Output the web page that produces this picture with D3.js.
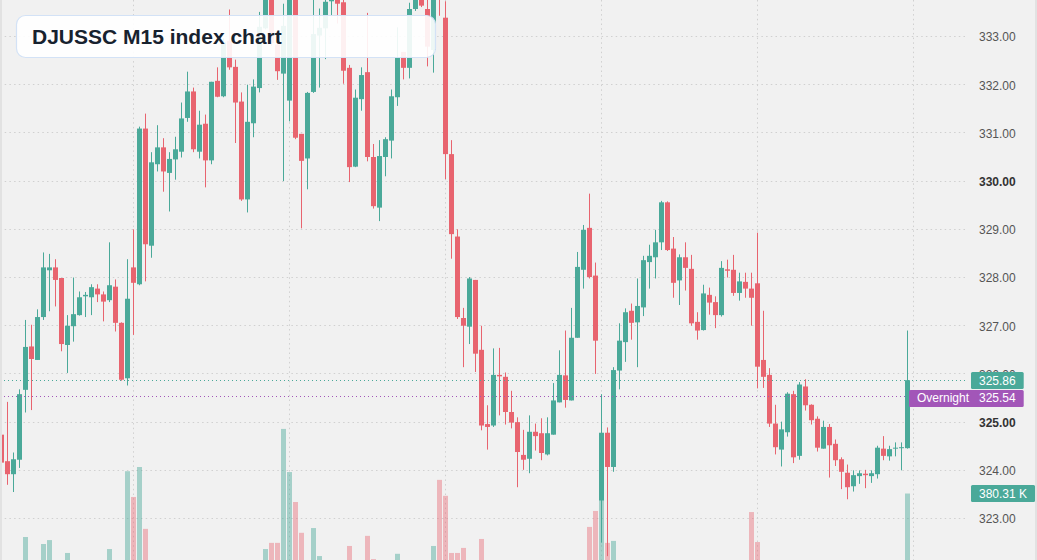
<!DOCTYPE html>
<html>
<head>
<meta charset="utf-8">
<script src="https://cdnjs.cloudflare.com/ajax/libs/d3/7.8.5/d3.min.js"></script>
<style>
html, body { margin: 0; padding: 0; background: #f1f1f1; }
#vis { width: 1037px; height: 560px; }
text { font-family: "Liberation Sans", Arial, sans-serif; }
</style>
</head>
<body>
<div id="vis"></div>
<script>
// 15 minute bars, oldest first
var opens = [324.73, 324.18, 323.91, 324.21, 325.66, 326.56, 326.28, 327.17, 328.14, 328.20,
    327.98, 326.59, 326.98, 327.21, 327.60, 327.58, 327.76, 327.64, 327.52, 327.80,
    327.05, 325.90, 328.20, 327.85, 331.08, 328.65, 330.34, 330.69, 330.16, 330.44,
    330.60, 331.30, 331.85, 330.60, 331.18, 330.42, 332.07, 331.75, 332.90, 332.36,
    331.64, 329.61, 331.19, 331.92, 333.16, 333.85, 332.82, 332.22, 331.66, 333.80,
    330.97, 330.46, 331.84, 333.01, 333.16, 333.72, 333.82, 333.70, 332.34, 330.29,
    331.69, 332.25, 330.49, 329.44, 330.49, 330.83, 331.73, 332.67, 332.34, 333.56,
    333.85, 333.56, 332.71, 334.05, 333.38, 330.55, 328.84, 327.15, 326.97, 327.94,
    326.49, 324.95, 324.92, 325.97, 325.93, 325.20, 324.99, 324.31, 324.23, 324.79,
    324.76, 324.32, 324.73, 325.40, 325.96, 325.44, 326.74, 328.15, 329.02, 328.03,
    323.36, 324.77, 324.06, 326.06, 326.65, 327.30, 327.06, 327.37, 328.31, 328.41,
    328.72, 329.55, 328.59, 327.93, 328.41, 328.17, 327.07, 326.90, 327.63, 327.48,
    327.21, 328.16, 328.15, 327.67, 327.90, 327.76, 327.87, 326.28, 325.97, 324.96,
    324.42, 324.78, 325.57, 324.29, 325.73, 325.35, 325.06, 324.44, 324.89, 324.54,
    324.22, 323.94, 323.66, 323.87, 323.92, 323.87, 323.91, 324.44, 324.28, 324.44,
    324.46, 324.45];
var highs = [324.85, 325.41, 324.36, 325.67, 327.11, 327.01, 327.33, 328.51, 328.48, 328.37,
    327.98, 327.21, 327.99, 327.70, 327.69, 327.85, 327.85, 327.70, 328.72, 327.95,
    327.06, 328.37, 328.99, 331.12, 331.39, 330.59, 331.15, 330.88, 330.59, 330.91,
    331.62, 332.26, 331.93, 331.45, 331.37, 332.05, 332.35, 332.95, 333.55, 332.51,
    331.83, 331.99, 332.10, 333.50, 333.95, 333.95, 333.00, 333.67, 333.95, 333.95,
    330.97, 331.84, 333.80, 333.57, 333.80, 333.95, 333.90, 333.80, 332.40, 331.89,
    332.35, 333.48, 330.76, 330.84, 330.90, 331.89, 333.18, 332.67, 333.69, 333.90,
    333.95, 333.80, 333.90, 334.15, 333.72, 330.84, 328.99, 327.36, 328.00, 327.94,
    326.99, 325.34, 326.52, 326.53, 326.02, 325.64, 325.09, 324.83, 325.13, 324.96,
    325.07, 325.09, 325.80, 326.48, 326.89, 327.36, 328.52, 329.08, 329.73, 328.30,
    325.57, 324.88, 326.13, 327.04, 327.35, 327.45, 327.97, 328.44, 328.67, 328.98,
    329.58, 329.57, 328.83, 328.47, 328.72, 328.46, 327.27, 327.84, 327.78, 327.60,
    328.33, 328.36, 328.46, 328.09, 328.09, 328.09, 328.92, 327.30, 326.11, 325.35,
    325.00, 325.61, 325.64, 325.82, 325.88, 325.36, 325.11, 325.02, 324.95, 324.63,
    324.26, 324.11, 323.99, 323.99, 324.00, 323.99, 324.50, 324.70, 324.50, 324.57,
    324.57, 326.89];
var lows = [324.05, 323.69, 323.54, 324.04, 325.19, 325.24, 326.28, 327.11, 327.29, 327.39,
    326.46, 326.01, 326.66, 327.20, 327.17, 327.21, 327.48, 327.08, 327.48, 326.87,
    325.85, 325.75, 326.80, 327.83, 327.91, 328.40, 330.19, 329.77, 329.36, 330.02,
    330.48, 331.22, 330.59, 330.46, 329.86, 330.34, 331.73, 331.73, 332.30, 330.78,
    329.58, 329.34, 330.90, 331.83, 333.14, 332.80, 332.09, 329.99, 331.23, 330.86,
    329.01, 329.82, 331.82, 331.93, 332.52, 333.41, 333.26, 332.01, 329.97, 330.28,
    331.45, 330.40, 329.42, 329.16, 330.09, 330.46, 331.55, 332.10, 332.12, 333.52,
    333.60, 332.37, 332.24, 333.42, 330.03, 328.38, 327.13, 326.13, 326.61, 326.03,
    324.82, 324.42, 324.89, 325.13, 324.94, 324.86, 323.64, 324.00, 323.93, 324.40,
    324.20, 324.30, 324.73, 325.40, 325.29, 325.44, 326.74, 327.76, 327.97, 325.99,
    322.49, 322.21, 323.96, 325.67, 326.24, 326.70, 326.13, 327.19, 327.76, 327.97,
    328.56, 328.54, 327.57, 327.42, 327.72, 326.99, 326.70, 326.89, 327.22, 326.94,
    327.18, 327.99, 327.61, 327.51, 327.57, 326.99, 325.69, 325.70, 324.89, 324.32,
    324.07, 324.69, 324.14, 324.21, 325.23, 324.94, 324.38, 324.44, 323.84, 324.08,
    323.60, 323.39, 323.55, 323.71, 323.62, 323.73, 323.82, 324.20, 324.19, 324.28,
    323.99, 324.44];
var closes = [324.15, 323.91, 324.22, 325.57, 326.55, 326.30, 327.17, 328.20, 328.20, 327.94,
    326.61, 326.99, 327.23, 327.58, 327.63, 327.79, 327.64, 327.49, 327.83, 327.05,
    325.87, 327.55, 327.88, 331.08, 328.68, 330.38, 330.69, 330.19, 330.45, 330.65,
    331.29, 331.85, 330.65, 331.16, 330.42, 332.05, 331.74, 332.87, 332.35, 331.62,
    329.61, 331.22, 331.95, 333.19, 333.85, 332.85, 332.27, 333.21, 333.85, 330.89,
    330.41, 331.82, 333.04, 333.17, 333.71, 333.82, 333.67, 332.28, 330.28, 331.72,
    332.19, 330.49, 329.47, 330.51, 330.86, 331.75, 332.56, 332.34, 333.56, 333.80,
    333.63, 332.78, 333.82, 333.85, 330.55, 328.89, 327.17, 326.99, 327.97, 326.41,
    324.92, 324.89, 325.97, 325.94, 325.20, 324.98, 324.37, 324.21, 324.79, 324.70,
    324.35, 324.76, 325.44, 325.97, 325.45, 326.74, 328.21, 328.98, 328.00, 326.68,
    324.77, 324.06, 326.07, 326.68, 327.27, 327.05, 327.40, 328.35, 328.44, 328.72,
    329.55, 328.56, 327.88, 328.41, 328.19, 327.04, 326.89, 327.66, 327.47, 327.21,
    328.19, 328.13, 327.67, 327.91, 327.76, 327.57, 326.14, 325.93, 324.96, 324.47,
    324.84, 325.58, 324.26, 325.77, 325.34, 325.03, 324.46, 324.89, 324.51, 324.20,
    323.96, 323.64, 323.89, 323.93, 323.89, 323.93, 324.46, 324.29, 324.43, 324.46,
    324.47, 325.86];
// volume in thousands
var volumes = [95, 110, 88, 120, 225, 130, 105, 200, 214, 90,
    125, 168, 100, 70, 60, 75, 55, 80, 182, 115,
    135, 460, 368, 475, 254, 130, 110, 95, 100, 75,
    120, 105, 128, 90, 112, 138, 85, 118, 102, 126,
    134, 130, 96, 124, 182, 204, 204, 611, 457, 350,
    240, 136, 257, 157, 110, 80, 92, 130, 193, 120,
    98, 229, 146, 128, 85, 118, 165, 78, 126, 70,
    66, 122, 193, 429, 372, 168, 168, 186, 132, 138,
    218, 88, 124, 95, 110, 86, 128, 70, 105, 64,
    92, 80, 114, 108, 120, 130, 138, 125, 261, 318,
    354, 204, 211, 120, 108, 82, 118, 110, 76, 90,
    128, 112, 100, 88, 84, 122, 74, 96, 62, 70,
    118, 58, 92, 66, 60, 314, 207, 138, 130, 104,
    96, 102, 126, 134, 88, 72, 100, 82, 106, 78,
    84, 98, 62, 48, 52, 44, 90, 66, 58, 40,
    54, 380.31];

var priceTicks = [323, 324, 325, 326, 327, 328, 329, 330, 331, 332, 333];
var boldTicks = [325, 330];
var sessionBreaks = [22, 48, 74, 100, 126, 152];
var lastPrice = 325.86;
var overnightPrice = 325.54;
var overnightName = 'Overnight';
var title = 'DJUSSC M15 index chart';

var upColor = '#4aa999',
    downColor = '#e8646f',
    nightColor = '#a256b8';

var width = 1037,
    height = 560,
    plotRight = 967;

var svg = d3.select('#vis')
    .append('svg')
    .attr('width', width)
    .attr('height', height);

svg.append('rect')
    .attr('width', width)
    .attr('height', height)
    .attr('fill', '#f1f1f1');

var data = opens.map(function (o, i) {
    return { i: i, o: o, h: highs[i], l: lows[i], c: closes[i], v: volumes[i] };
});

var x_scale = d3.scaleLinear()
    .domain([0, 151])
    .range([1.5, 907.5]);

var y_scale = d3.scaleLinear()
    .domain([322.13, 333.747])
    .range([height, 0]);

// volume pane sits low, its base is below the visible area
var v_scale = d3.scaleLinear()
    .domain([0, 1000])
    .range([600, 320]);

// grid
svg.append('g')
    .selectAll('line')
    .data(priceTicks)
    .enter()
    .append('line')
    .attr('x1', 0)
    .attr('x2', plotRight)
    .attr('y1', function (d) { return Math.round(y_scale(d)) + 0.5; })
    .attr('y2', function (d) { return Math.round(y_scale(d)) + 0.5; })
    .attr('stroke', '#d0d0d0')
    .attr('stroke-dasharray', '1.5,3.2');

svg.append('g')
    .selectAll('line')
    .data(sessionBreaks)
    .enter()
    .append('line')
    .attr('x1', function (d) { return x_scale(d); })
    .attr('x2', function (d) { return x_scale(d); })
    .attr('y1', 0)
    .attr('y2', height)
    .attr('stroke', '#d0d0d0')
    .attr('stroke-dasharray', '1.5,3.2');

// volume
svg.append('g')
    .selectAll('rect')
    .data(data)
    .enter()
    .append('rect')
    .attr('x', function (d) { return x_scale(d.i) - 2.5; })
    .attr('width', 5)
    .attr('y', function (d) { return v_scale(d.v); })
    .attr('height', function (d) { return v_scale(0) - v_scale(d.v); })
    .attr('fill', function (d) { return d.c >= d.o ? upColor : downColor; })
    .attr('fill-opacity', function (d) { return d.c >= d.o ? 0.45 : 0.42; });

// candles
var candles = svg.append('g')
    .selectAll('g')
    .data(data)
    .enter()
    .append('g');

candles.append('line')
    .attr('x1', function (d) { return x_scale(d.i); })
    .attr('x2', function (d) { return x_scale(d.i); })
    .attr('y1', function (d) { return y_scale(d.h); })
    .attr('y2', function (d) { return y_scale(d.l); })
    .attr('stroke', function (d) { return d.c >= d.o ? upColor : downColor; })
    .attr('stroke-width', 1);

candles.append('rect')
    .attr('x', function (d) { return x_scale(d.i) - 2.5; })
    .attr('width', 5)
    .attr('y', function (d) { return y_scale(Math.max(d.o, d.c)); })
    .attr('height', function (d) {
        return Math.max(1, Math.abs(y_scale(d.o) - y_scale(d.c)));
    })
    .attr('fill', function (d) { return d.c >= d.o ? upColor : downColor; });

// price lines
var yLast = y_scale(lastPrice);
var yNight = y_scale(overnightPrice);

svg.append('line')
    .attr('x1', 0)
    .attr('x2', plotRight)
    .attr('y1', Math.round(yLast) + 0.5)
    .attr('y2', Math.round(yLast) + 0.5)
    .attr('stroke', upColor)
    .attr('stroke-dasharray', '1,3');

svg.append('line')
    .attr('x1', 0)
    .attr('x2', 908)
    .attr('y1', Math.round(yNight) + 0.5)
    .attr('y2', Math.round(yNight) + 0.5)
    .attr('stroke', nightColor)
    .attr('stroke-dasharray', '1,3');

// title box
svg.append('rect')
    .attr('x', 16.5)
    .attr('y', 15.5)
    .attr('width', 419)
    .attr('height', 42)
    .attr('rx', 9)
    .attr('fill', '#ffffff')
    .attr('fill-opacity', 0.9)
    .attr('stroke', '#d3e2f6')
    .attr('stroke-width', 1.2);

svg.append('text')
    .attr('x', 32)
    .attr('y', 44)
    .attr('font-size', 21)
    .attr('font-weight', 'bold')
    .attr('fill', '#17222f')
    .text(title);

// price axis
var y_axis = d3.axisRight(y_scale)
    .tickValues(priceTicks)
    .tickSize(0)
    .tickPadding(0)
    .tickFormat(d3.format('.2f'));

var axis_g = svg.append('g')
    .attr('transform', 'translate(979,1)')
    .call(y_axis);

axis_g.select('.domain').remove();
axis_g.selectAll('text')
    .attr('font-family', '"Liberation Sans", Arial, sans-serif')
    .attr('font-size', 12)
    .attr('fill', function (d) { return boldTicks.indexOf(d) >= 0 ? '#333' : '#555'; })
    .attr('font-weight', function (d) { return boldTicks.indexOf(d) >= 0 ? 'bold' : 'normal'; });

// labels on the scale
function tag(x, yc, txt, colour, minW) {
    var g = svg.append('g');
    var r = g.append('rect')
        .attr('y', Math.round(yc - 8.5))
        .attr('height', 17)
        .attr('rx', 1.5)
        .attr('fill', colour);
    var t = g.append('text')
        .attr('x', x + 8)
        .attr('y', yc)
        .attr('dy', '0.35em')
        .attr('font-size', 12)
        .attr('fill', '#ffffff')
        .text(txt);
    var w = Math.max(minW || 0, t.node().getComputedTextLength() + 16);
    r.attr('x', x).attr('width', w);
    return w;
}

var lastCentre = yLast + 0.5;
var nightCentre = Math.max(yNight, lastCentre + 17.5);

tag(971, lastCentre, d3.format('.2f')(lastPrice), upColor, 50);
tag(971, nightCentre, d3.format('.2f')(overnightPrice), nightColor, 50);
tag(909, nightCentre, overnightName, nightColor, 60);
tag(971, v_scale(volumes[volumes.length - 1]), d3.format('.2f')(volumes[volumes.length - 1]) + ' K', upColor, 0);

// thin frame edges
svg.append('rect').attr('x', 0).attr('y', 0).attr('width', 2).attr('height', height).attr('fill', '#e2e2e2');
svg.append('rect').attr('x', width - 2).attr('y', 0).attr('width', 2).attr('height', height).attr('fill', '#e2e2e2');
</script>
</body>
</html>
